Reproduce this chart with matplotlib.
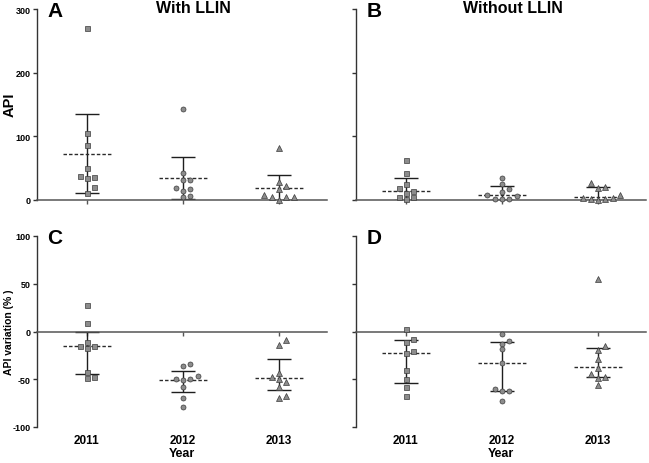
import matplotlib.pyplot as plt
import numpy as np

plt.rcParams['font.family'] = ['Liberation Sans', 'DejaVu Sans']
plt.rcParams['font.weight'] = 'bold'
plt.rcParams['axes.unicode_minus'] = False

years = ['2011', '2012', '2013']

# A: API with LLIN
api_with = [
    [270, 104.7, 86.4, 50.8, 36, 35, 38.2, 19.9, 11.5],
    [143.4, 42.4, 31.9, 31.4, 18.8, 14.1, 17.3, 5.2, 6.6],
    [81.2, 28.8, 21.5, 16.8, 7.3, 5.2, 4.7, 5.2, 0],
]
api_with_mid = [72.3, 34.6, 19.4]
api_with_hi = [134.6, 68, 38.7]
api_with_lo = [11.5, 2, 0]

# B: API without LLIN
api_without = [
    [63, 43, 25, 19, 14, 10.5, 5, 5, 1],
    [34.6, 25, 17.3, 13, 7.3, 7, 1.6, 1, 1.6],
    [26, 21, 19, 8, 3, 1.6, 0, 1.6, 3],
]
api_without_mid = [14, 7.3, 5.2]
api_without_hi = [34, 21.5, 20]
api_without_lo = [0, 0, 0]

# C: API variation with LLIN
var_with = [
    [27.6, 9.1, -11.2, -15.7, -17.8, -14.7, -41.9, -49.2, -47.8],
    [-34.2, -36.6, -47, -50, -49.5, -51.3, -57.9, -69.5, -78.9],
    [-8.7, -14.3, -43.6, -47.5, -52.4, -49.9, -57.6, -69.5, -68],
]
var_with_mid = [-15.7, -51, -48.5]
var_with_hi = [-0.7, -41.5, -28.6]
var_with_lo = [-44.7, -63.2, -61.4]

# D: API variation without LLIN
var_without = [
    [3.1, -7.7, -10.5, -20.6, -22, -40.8, -49.6, -57.6, -68],
    [-2.4, -12.6, -10.1, -18.8, -33.2, -62.5, -62.5, -60, -73],
    [54.5, -15, -19.2, -28.6, -38.4, -45, -47.8, -48.5, -55.5],
]
var_without_mid = [-22, -33.2, -37.3]
var_without_hi = [-8.7, -10.8, -16.8]
var_without_lo = [-53.8, -62.5, -47.5]

markers = ['s', 'o', '^']
fill = '#8c8c8c'
edge = '#3c3c3c'
line_col = '#1e1e1e'


def swarm(vals, px_per_unit, step=0.077, min_px=5.6):
    # simple dot-plot spread: put each point in the first free slot
    order = np.argsort(vals)
    slots = [0, 1, -1, 2, -2, 3, -3]
    placed = {}
    offs = np.zeros(len(vals))
    for i in order:
        for s in slots:
            ok = all(abs(vals[i] - v) * px_per_unit >= min_px for v in placed.get(s, []))
            if ok:
                placed.setdefault(s, []).append(vals[i])
                offs[i] = s * step
                break
    return offs


def draw_panel(ax, groups, mid, hi, lo, ylim):
    ax.set_xlim(-0.52, 2.5)
    ax.set_ylim(*ylim)
    h_px = ax.get_position().height * fig.get_figheight() * fig.dpi
    ppu = h_px / (ylim[1] - ylim[0])
    for k, vals in enumerate(groups):
        vals = np.array(vals, dtype=float)
        xs = k + swarm(vals, ppu)
        ax.vlines(k, lo[k], hi[k], color=line_col, lw=1, zorder=2)
        ax.hlines([lo[k], hi[k]], k - 0.125, k + 0.125, color=line_col, lw=1, zorder=2)
        ax.hlines(mid[k], k - 0.25, k + 0.25, color='#2a2a2a', lw=1,
                  linestyles=(0, (2.5, 1.5)), zorder=2)
        ax.plot(xs, vals, linestyle='none', marker=markers[k], ms=3.6 if k != 2 else 4.2,
                mfc=fill, mec=edge, mew=0.5, zorder=3, clip_on=False)
    for s in ['top', 'right']:
        ax.spines[s].set_visible(False)
    ax.spines['left'].set_color('#333333')
    ax.spines['bottom'].set_color('#555555')
    ax.spines['left'].set_linewidth(1)
    ax.spines['bottom'].set_linewidth(1.1)
    ax.set_xticks([0, 1, 2])
    ax.tick_params(axis='x', labelbottom=False, length=3, width=1, color='#555555')
    ax.tick_params(axis='y', length=3, width=1, color='#333333', labelsize=6.5, pad=1.5)


fig = plt.figure(figsize=(6.49, 4.64), dpi=100)
W, H = 649, 464
ax_a = fig.add_axes([37 / W, 1 - 201 / H, 290 / W, 191 / H])
ax_b = fig.add_axes([356 / W, 1 - 201 / H, 290 / W, 191 / H])
ax_c = fig.add_axes([37 / W, 1 - 428 / H, 290 / W, 191 / H])
ax_d = fig.add_axes([356 / W, 1 - 428 / H, 290 / W, 191 / H])

draw_panel(ax_a, api_with, api_with_mid, api_with_hi, api_with_lo, (0, 300))
draw_panel(ax_b, api_without, api_without_mid, api_without_hi, api_without_lo, (0, 300))
draw_panel(ax_c, var_with, var_with_mid, var_with_hi, var_with_lo, (-100, 100))
draw_panel(ax_d, var_without, var_without_mid, var_without_hi, var_without_lo, (-100, 100))

for ax in (ax_a, ax_b):
    ax.set_yticks([0, 100, 200, 300])
for ax in (ax_c, ax_d):
    ax.set_yticks([-100, -50, 0, 50, 100])
    ax.spines['bottom'].set_position(('data', 0))
    sec = ax.secondary_xaxis(0)
    sec.set_xticks([0, 1, 2], labels=years)
    sec.tick_params(length=0, pad=5, labelsize=8.5)
    sec.spines['bottom'].set_visible(False)
    sec.set_xlabel('Year', fontsize=9, fontweight='bold', labelpad=1)
ax_b.tick_params(axis='y', labelleft=False)
ax_d.tick_params(axis='y', labelleft=False)

# y labels placed in figure pixels so they stay inside the canvas
fig.text(10 / W, 1 - 105 / H, 'API', rotation=90, fontsize=10.5,
         fontweight='bold', ha='center', va='center')
fig.text(9 / W, 1 - 332 / H, 'API variation (% )', rotation=90, fontsize=7.5,
         fontweight='bold', ha='center', va='center')

for ax, letter in zip((ax_a, ax_b, ax_c, ax_d), 'ABCD'):
    ax.text(0.035, 0.99, letter, transform=ax.transAxes, fontsize=15,
            fontweight='bold', ha='left', va='center')
ax_a.text(0.54, 1.01, 'With LLIN', transform=ax_a.transAxes, fontsize=11.5,
          fontweight='bold', ha='center', va='center')
ax_b.text(0.54, 1.01, 'Without LLIN', transform=ax_b.transAxes, fontsize=11.5,
          fontweight='bold', ha='center', va='center')

plt.savefig('out.png', dpi=100)
